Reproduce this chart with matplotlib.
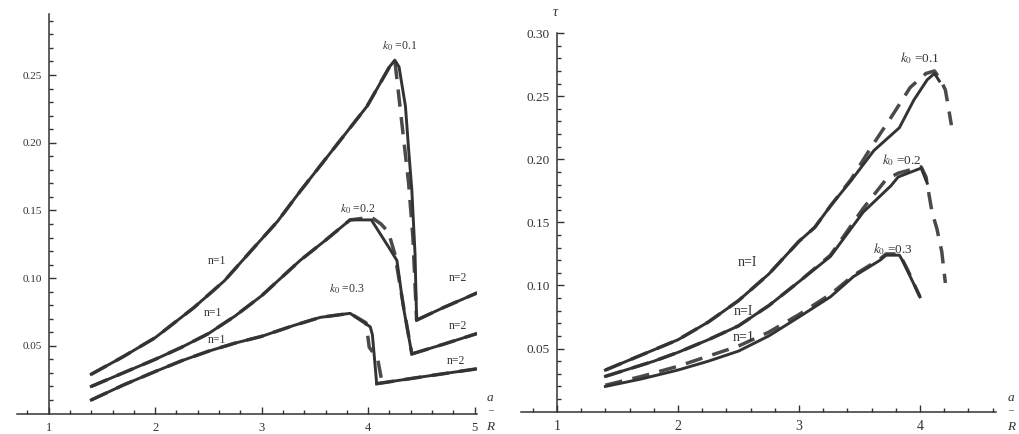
import matplotlib
matplotlib.use('Agg')
import matplotlib.pyplot as plt

plt.rcParams['font.family'] = ['Liberation Serif', 'DejaVu Serif']
plt.rcParams['mathtext.fontset'] = 'stix'

# ---------------- left panel data ----------------
L1_x = [1.40, 1.70, 2.00, 2.36, 2.65, 2.91, 3.15, 3.36, 3.67, 3.99, 4.20, 4.25, 4.29, 4.35, 4.38, 4.41, 4.44, 4.455]
L1_y = [0.029, 0.042, 0.056, 0.078, 0.098, 0.121, 0.142, 0.164, 0.195, 0.227, 0.256, 0.261, 0.256, 0.227, 0.195, 0.165, 0.118, 0.069]
L1d_x = [1.40, 1.70, 2.00, 2.36, 2.65, 2.91, 3.15, 3.36, 3.67, 3.99, 4.20, 4.25, 4.28, 4.33, 4.38, 4.42, 4.455]
L1d_y = [0.029, 0.042, 0.056, 0.078, 0.098, 0.121, 0.142, 0.164, 0.195, 0.227, 0.256, 0.261, 0.240, 0.205, 0.170, 0.130, 0.069]
L1n2_x = [4.455, 4.70, 5.02]
L1n2_y = [0.069, 0.078, 0.089]

L2_x = [1.40, 1.70, 2.00, 2.25, 2.50, 2.75, 3.00, 3.18, 3.36, 3.60, 3.83, 4.03, 4.20, 4.27, 4.33, 4.41]
L2_y = [0.020, 0.030, 0.040, 0.049, 0.059, 0.072, 0.087, 0.100, 0.113, 0.128, 0.143, 0.143, 0.122, 0.113, 0.079, 0.044]
L2d_x = [1.40, 1.70, 2.00, 2.25, 2.50, 2.75, 3.00, 3.18, 3.36, 3.60, 3.83, 4.03, 4.12, 4.19, 4.25, 4.33, 4.41]
L2d_y = [0.020, 0.030, 0.040, 0.049, 0.059, 0.072, 0.087, 0.100, 0.113, 0.128, 0.143, 0.145, 0.140, 0.134, 0.118, 0.080, 0.044]
L2n2_x = [4.41, 4.70, 5.02]
L2n2_y = [0.044, 0.051, 0.059]

L3_x = [1.40, 1.70, 2.00, 2.25, 2.50, 2.75, 3.00, 3.30, 3.55, 3.83, 4.02, 4.04, 4.08]
L3_y = [0.010, 0.021, 0.031, 0.039, 0.046, 0.052, 0.057, 0.065, 0.071, 0.074, 0.064, 0.058, 0.022]
L3d_x = [1.40, 1.70, 2.00, 2.25, 2.50, 2.75, 3.00, 3.30, 3.55, 3.83, 3.98, 4.01, 4.09, 4.13]
L3d_y = [0.010, 0.021, 0.031, 0.039, 0.046, 0.052, 0.057, 0.065, 0.071, 0.074, 0.067, 0.049, 0.040, 0.023]
L3n2_x = [4.08, 4.50, 5.02]
L3n2_y = [0.022, 0.027, 0.033]

# ---------------- right panel data ----------------
R1_x = [1.40, 1.60, 1.80, 2.00, 2.25, 2.50, 2.75, 3.00, 3.13, 3.26, 3.43, 3.62, 3.83, 3.95, 4.06, 4.12, 4.16]
R1_y = [0.033, 0.041, 0.049, 0.057, 0.071, 0.088, 0.109, 0.135, 0.146, 0.163, 0.183, 0.207, 0.225, 0.247, 0.263, 0.268, 0.262]
R1d_x = [1.40, 1.60, 1.80, 2.00, 2.25, 2.50, 2.75, 3.00, 3.13, 3.26, 3.43, 3.60, 3.76, 3.92, 4.05, 4.12, 4.17, 4.21, 4.23, 4.26]
R1d_y = [0.033, 0.041, 0.049, 0.057, 0.071, 0.088, 0.109, 0.135, 0.146, 0.163, 0.184, 0.210, 0.233, 0.257, 0.268, 0.270, 0.263, 0.255, 0.244, 0.227]

R2_x = [1.40, 1.60, 1.80, 2.00, 2.25, 2.50, 2.75, 3.00, 3.26, 3.53, 3.76, 3.82, 4.01, 4.06]
R2_y = [0.028, 0.034, 0.040, 0.047, 0.057, 0.068, 0.084, 0.103, 0.123, 0.158, 0.179, 0.186, 0.193, 0.181]
R2d_x = [1.40, 1.60, 1.80, 2.00, 2.25, 2.50, 2.75, 3.00, 3.26, 3.53, 3.72, 3.82, 4.01, 4.05, 4.10, 4.14, 4.18, 4.21]
R2d_y = [0.028, 0.034, 0.040, 0.047, 0.057, 0.068, 0.084, 0.103, 0.124, 0.161, 0.184, 0.189, 0.194, 0.186, 0.158, 0.145, 0.127, 0.102]

R3_x = [1.40, 1.70, 2.00, 2.25, 2.50, 2.75, 3.00, 3.26, 3.45, 3.67, 3.72, 3.83, 3.86, 4.00]
R3_y = [0.020, 0.026, 0.033, 0.040, 0.048, 0.060, 0.075, 0.091, 0.107, 0.120, 0.124, 0.124, 0.119, 0.091]
R3d_x = [1.40, 1.70, 2.00, 2.25, 2.50, 2.75, 3.00, 3.26, 3.45, 3.67, 3.72, 3.83, 3.90, 4.00]
R3d_y = [0.021, 0.028, 0.036, 0.044, 0.052, 0.063, 0.077, 0.093, 0.108, 0.121, 0.125, 0.125, 0.112, 0.091]

# labels: (x, y, text)
L_k_labels = [(4.30, 0.271, '0.1'), (3.90, 0.151, '0.2'), (3.80, 0.092, '0.3')]
L_n_labels = [(2.58, 0.113, 'n=1'), (2.54, 0.074, 'n=1'), (2.58, 0.054, 'n=1'),
              (4.84, 0.100, 'n=2'), (4.84, 0.065, 'n=2'), (4.82, 0.039, 'n=2')]
R_k_labels = [(4.00, 0.280, '0.1'), (3.85, 0.199, '0.2'), (3.78, 0.129, '0.3')]
R_n_labels = [(2.57, 0.118, 'n=I'), (2.54, 0.079, 'n=I'), (2.54, 0.059, 'n=1')]

L_xmajor = [1, 2, 3, 4, 5]
R_xmajor = [1, 2, 3, 4]
L_ymajor = [0.05, 0.10, 0.15, 0.20, 0.25]
R_ymajor = [0.05, 0.10, 0.15, 0.20, 0.25, 0.30]

LINE = '#333333'
DASH = '#4a4a4a'

fig = plt.figure(figsize=(10.19, 4.34), dpi=100)
axL = fig.add_axes([0.0164, 0.0472, 0.4515, 0.9203])
axR = fig.add_axes([0.511, 0.0514, 0.4666, 0.8724])


def style(ax, xlim, ylim, xmaj, ymaj, fsx, fsy):
    ax.set_xlim(*xlim)
    ax.set_ylim(*ylim)
    for s in ('top', 'right'):
        ax.spines[s].set_visible(False)
    ax.spines['left'].set_position(('data', 1.0))
    ax.spines['bottom'].set_position(('data', 0.0))
    for s in ('left', 'bottom'):
        ax.spines[s].set_color('#333333')
        ax.spines[s].set_linewidth(1.1)
    ax.set_xticks(xmaj)
    ax.set_xticklabels([str(v) for v in xmaj])
    xmin_ticks = [round(0.8 + 0.2 * i, 1) for i in range(int((xlim[1] - 0.8) / 0.2) + 1)]
    ax.set_xticks([t for t in xmin_ticks if abs(t - round(t)) > 1e-6], minor=True)
    ax.set_yticks(ymaj)
    ax.set_yticklabels(['%.2f' % v for v in ymaj])
    ax.set_yticks([round(0.01 * i, 2) for i in range(1, int(ylim[1] * 100 + 1e-6) + 1)
                   if i % 5 != 0], minor=True)
    ax.tick_params(which='both', direction='in', colors='#333333', labelcolor='#333333', width=1.0)
    ax.tick_params(axis='x', labelsize=fsx)
    ax.tick_params(axis='y', labelsize=fsy)
    ax.tick_params(which='major', length=5)
    ax.tick_params(which='minor', length=3)
    ax.tick_params(axis='x', which='major', pad=6)
    ax.tick_params(axis='y', which='major', pad=5)
    ax.patch.set_alpha(0)


style(axL, (0.7, 5.02), (0, 0.295), L_xmajor, L_ymajor, 9, 8)
style(axR, (0.7, 4.63), (0, 0.30), R_xmajor, R_ymajor, 10, 9.5)

lw_s, lw_d = 2.1, 2.5
dash = (0, (5, 3))
for ax, sets in ((axL, [(L1_x, L1_y, L1d_x, L1d_y), (L2_x, L2_y, L2d_x, L2d_y), (L3_x, L3_y, L3d_x, L3d_y),
                        (L1n2_x, L1n2_y, L1n2_x, L1n2_y), (L2n2_x, L2n2_y, L2n2_x, L2n2_y),
                        (L3n2_x, L3n2_y, L3n2_x, L3n2_y)]),
                 (axR, [(R1_x, R1_y, R1d_x, R1d_y), (R2_x, R2_y, R2d_x, R2d_y), (R3_x, R3_y, R3d_x, R3d_y)])):
    for sx, sy, dx, dy in sets:
        ax.plot(dx, dy, color=DASH, lw=lw_d, linestyle=dash)
        ax.plot(sx, sy, color=LINE, lw=lw_s, solid_joinstyle='round')

for x, y, v in L_k_labels:
    axL.text(x, y, r'$k_0$' + ' =' + v, fontsize=8.5, ha='center', va='center', color='#333333')
for x, y, t in L_n_labels:
    axL.text(x, y, t, fontsize=8.5, ha='center', va='center', color='#333333')
for x, y, v in R_k_labels:
    axR.text(x, y, r'$k_0$' + ' =' + v, fontsize=9.5, ha='center', va='center', color='#333333')
for x, y, t in R_n_labels:
    axR.text(x, y, t, fontsize=10, ha='center', va='center', color='#333333')

# a/R axis labels and tau
for xp in (490, 1011):
    fig.text(xp / 1019, 1 - 398 / 434, 'a', style='italic', fontsize=9.5, ha='center', va='center', color='#333333')
    fig.text(xp / 1019, 1 - 411 / 434, '\u2013', fontsize=7, ha='center', va='center', color='#333333')
    fig.text(xp / 1019, 1 - 427 / 434, 'R', style='italic', fontsize=9.5, ha='center', va='center', color='#333333')
fig.text(555 / 1019, 1 - 13 / 434, '\u03c4', style='italic', fontsize=10, ha='center', va='center', color='#333333')

fig.savefig('out.png', dpi=100)
